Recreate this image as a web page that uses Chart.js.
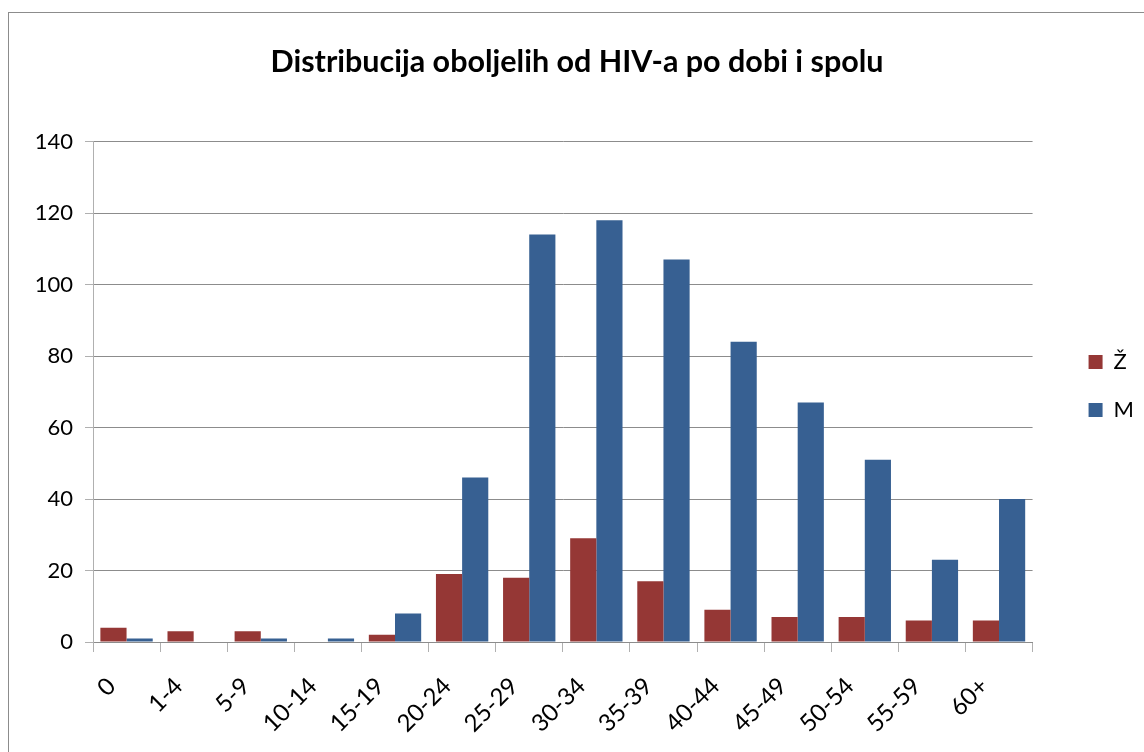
<!DOCTYPE html>
<html><head><meta charset="utf-8">
<script src="https://cdn.jsdelivr.net/npm/chart.js@4/dist/chart.umd.min.js"></script>
<style>html,body{margin:0;padding:0;background:#fff;}#wrap{width:1144px;height:752px;position:relative;}</style>
</head><body><div id="wrap"><canvas id="c" width="1144" height="752"></canvas></div>
<script>
const categories = ['0','1-4','5-9','10-14','15-19','20-24','25-29','30-34','35-39','40-44','45-49','50-54','55-59','60+'];
const zValues = [4,3,3,0,2,19,18,29,17,9,7,7,6,6];
const mValues = [1,0,1,1,8,46,114,118,107,84,67,51,23,40];
const yTicks = [0,20,40,60,80,100,120,140];
const FONT = 'Lato, "Open Sans", sans-serif';

const border = {id:'border', beforeDraw(chart){const c=chart.ctx;c.save();c.strokeStyle='#8c8c8c';c.lineWidth=1;c.strokeRect(8.5,12.5,1200,800);c.restore();}};

new Chart(document.getElementById('c'), {
  type:'bar',
  data:{labels:categories, datasets:[
    {label:'Ž', data:zValues, backgroundColor:'#953735', borderWidth:0},
    {label:'M', data:mValues, backgroundColor:'#376092', borderWidth:0}
  ]},
  options:{
    responsive:false, animation:false,
    layout:{padding:{left:10,top:20,right:0,bottom:0}},
    datasets:{bar:{categoryPercentage:0.78, barPercentage:1}},
    plugins:{
      title:{display:true, text:'Distribucija oboljelih od HIV-a po dobi i spolu', color:'#000', font:{family:FONT, size:30.5, weight:'bold'}, padding:{top:24,bottom:61}},
      legend:{position:'right', labels:{color:'#000', font:{family:FONT,size:22}, boxWidth:14, boxHeight:14, padding:26}},
      tooltip:{enabled:false}
    },
    scales:{
      x:{grid:{offset:true, drawOnChartArea:false, color:'#8c8c8c', tickLength:10, tickColor:'#b0b0b0'},
         border:{color:'#8c8c8c'},
         ticks:{color:'#000', font:{family:FONT,size:24}, maxRotation:45, minRotation:45, autoSkip:false, padding:20, labelOffset:-15},
         afterFit(s){s.height=110;}},
      y:{min:0,max:140, afterBuildTicks(s){s.ticks=yTicks.map(v=>({value:v}));},
         grid:{color:'#8c8c8c', tickLength:8, tickColor:'#b0b0b0'},
         border:{color:'#b0b0b0'},
         ticks:{color:'#000', font:{family:FONT,size:22}, padding:12},
         afterFit(s){s.width=83;}},
      yr:{position:'right', display:true, min:0, max:140,
         grid:{display:false, drawOnChartArea:false}, border:{display:false},
         ticks:{display:false},
         afterFit(s){s.width=30;}}
    }
  },
  plugins:[border]
});
</script></body></html>
